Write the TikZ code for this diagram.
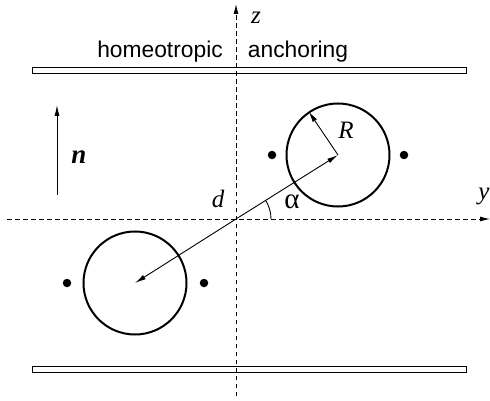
\documentclass[tikz,border=0pt]{standalone}
\usepackage{fontspec}
\setmainfont{Liberation Serif}
\newfontfamily\labelsans{Liberation Sans}
\usetikzlibrary{arrows.meta}
\tikzset{
  axis/.style={dash pattern=on 4.5pt off 3.5pt, line width=0.9pt},
  plate/.style={draw, line width=0.9pt, fill=white},
  disk/.style={circle, draw, line width=2pt, minimum size=103pt, inner sep=0pt},
  defect/.style={circle, fill=black, minimum size=8.5pt, inner sep=0pt},
  vec/.style={line width=0.9pt, -{Latex[length=11pt,width=5pt]}},
  lab/.style={font=\fontsize{25}{27}\selectfont, inner sep=0pt},
  sanslab/.style={font=\labelsans\fontsize{22.8}{25}\selectfont, inner sep=0pt}
}
\begin{document}
\begin{tikzpicture}[x=1pt,y=-1pt]
\useasboundingbox (0,0) rectangle (490,401);
% plates
\draw[plate] (32,67) rectangle (466,73);
\draw[plate] (32,366) rectangle (466,372);
% axes
\coordinate (O) at (236,219);
\coordinate (zbot) at (236,396);
\coordinate (ztop) at (236,4);
\coordinate (yleft) at (7,219);
\coordinate (yright) at (490,219);
\draw[axis, -{Latex[length=10pt,width=5pt]}] (zbot) -- (ztop);
\draw[axis, -{Latex[length=10pt,width=5pt]}] (yleft) -- (yright);
\node[lab] (zl) at (256,18) {\itshape z};
\node[lab] (yl) at (484,196) {\itshape y};
\node[lab] (dl) at (218,199) {\itshape d};
% texts
\node[sanslab] (t1) at (160,52) {homeotropic};
\node[sanslab] (t2) at (298,52) {anchoring};
% disks
\node[disk] (c1) at (338,155) {};
\node[disk] (c2) at (135,283) {};
\node[defect] (p1) at (272,155) {};
\node[defect] (p2) at (404,155) {};
\node[defect] (p3) at (67,283) {};
\node[defect] (p4) at (204,283) {};
% vectors
\draw[vec] (O) -- (c1.center);
\draw[vec] (O) -- (c2.center);
\draw[vec] (c1.center) -- (c1.124);
\node[lab] (Rl) at (346,130) {\itshape R};
% angle
\draw[line width=0.9pt] (O) ++(35,0) arc[start angle=0, end angle=-31.7, radius=35];
\node[lab, font=\fontsize{29}{30}\selectfont] (al) at (292,202) {α};
% director
\coordinate (nb) at (57,195);
\coordinate (nt) at (57,105);
\draw[vec] (nb) -- (nt);
\node[lab, font=\fontsize{27}{29}\selectfont] (nl) at (79,157) {\bfseries\itshape n};
\end{tikzpicture}
\end{document}
